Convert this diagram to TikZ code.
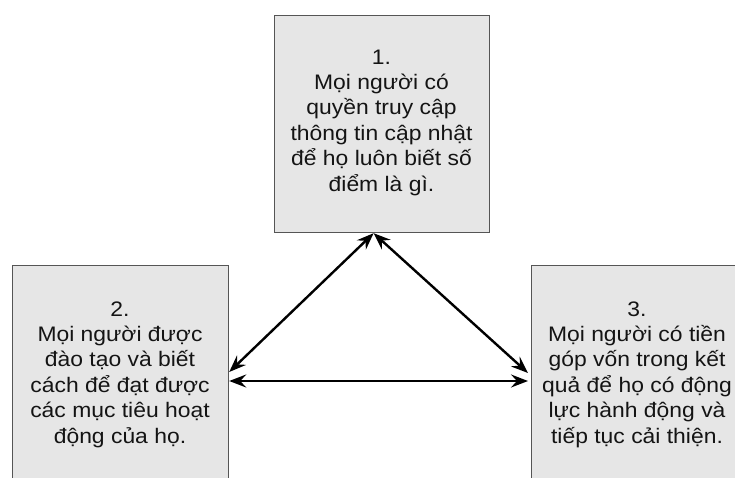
\documentclass[tikz,border=0pt]{standalone}
\usepackage{fontspec}
\setmainfont[FakeStretch=1.09]{Liberation Sans}
\usetikzlibrary{arrows.meta,calc}
\definecolor{boxfill}{RGB}{230,230,230}
\definecolor{boxline}{RGB}{85,85,85}
\definecolor{txtc}{RGB}{20,20,20}
\begin{document}
\begin{tikzpicture}[x=1pt,y=-1pt,
  box/.style={draw=boxline, fill=boxfill, line width=1.2pt, inner sep=0pt, anchor=north west},
  txt/.style={align=center, text=txtc, font=\fontsize{21}{25.4}\selectfont, inner sep=0pt},
  link/.style={line width=2.4pt, {Stealth[length=17pt,width=13pt,inset=6pt]}-{Stealth[length=17pt,width=13pt,inset=6pt]}}]
\useasboundingbox (0,0) rectangle (735,478);
\fill[white] (0,0) rectangle (735,478);
\begin{scope}
\clip (0,0) rectangle (735,478);
\node[box, minimum width=215pt, minimum height=217pt] (b1) at (274,15) {};
\node[box, minimum width=216pt, minimum height=240pt] (b2) at (12,265) {};
\node[box, minimum width=230pt, minimum height=240pt] (b3) at (531,265) {};
\node[txt] (t1) at (381.5,122.5) {1.\\Mọi người có\\quyền truy cập\\thông tin cập nhật\\để họ luôn biết số\\điểm là gì.};
\node[txt] (t2) at (120,374.5) {2.\\Mọi người được\\đào tạo và biết\\cách để đạt được\\các mục tiêu hoạt\\động của họ.};
\node[txt] (t3) at (637,374.5) {3.\\Mọi người có tiền\\góp vốn trong kết\\quả để họ có động\\lực hành động và\\tiếp tục cải thiện.};
\end{scope}
\coordinate (apex) at ($(b1.south)+(-8.5,0)$);
\coordinate (l1) at ($(b2.north east)+(0,107)$);
\coordinate (l2) at ($(b2.north east)+(0,116)$);
\coordinate (r1) at ($(b3.north west)+(-3,108)$);
\coordinate (r2) at ($(b3.north west)+(-3,116)$);
\draw[link] (l1) -- (apex);
\draw[link] (apex) -- (r1);
\draw[link] (l2) -- (r2);
\end{tikzpicture}
\end{document}
